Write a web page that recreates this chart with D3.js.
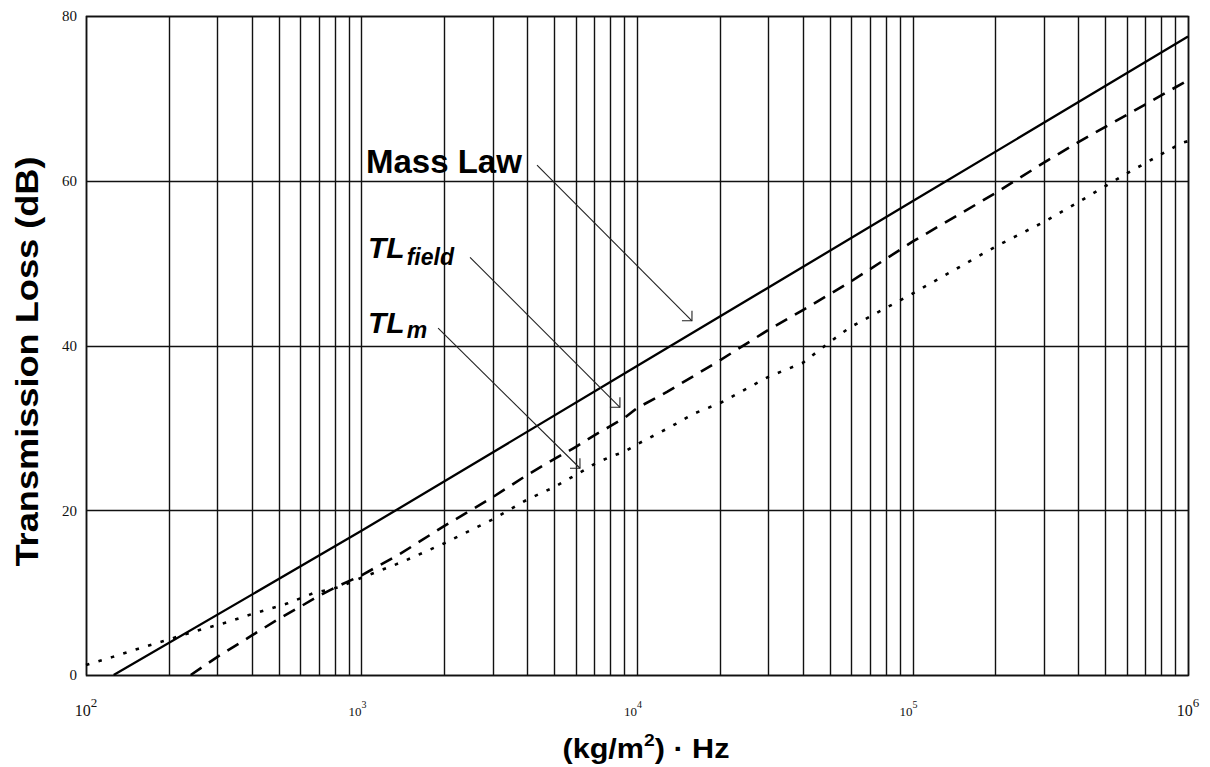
<!DOCTYPE html>
<html>
<head>
<meta charset="utf-8">
<script src="https://cdn.jsdelivr.net/npm/d3@7"></script>
<style>
  body { margin: 0; background: #fff; }
  svg { display: block; }
</style>
</head>
<body>
<script>
// Mass law and the two incidence-averaged transmission loss curves
var massLawFreq = [126, 1000, 10000, 100000, 1000000];
var massLawTL   = [0, 17.5, 37.5, 57.5, 77.5];

var fieldFreq = [240, 300, 400, 500, 600, 700, 800, 900, 1000, 1380, 2000, 3000, 4000, 5000, 6000, 7000, 8000, 9000,
                 10000, 12900, 20000, 30000, 40000, 59300, 100000, 200000, 300000, 400000, 600000, 1000000];
var fieldTL   = [0, 2.2, 4.8, 6.8, 8.3, 9.6, 10.6, 11.4, 12.1, 14.7, 18.1, 21.6, 24.3, 26.2, 27.7, 29.1, 30.2, 31.2,
                 32.4, 34.4, 38.2, 41.9, 44.3, 47.7, 52.6, 58.5, 62.2, 64.7, 68.0, 72.2];

var tlmFreq = [100, 125, 155, 190, 260, 325, 400, 540, 665, 835, 1000, 1400, 2000, 3000, 4000, 5000, 6000, 7000,
               8000, 9000, 10000, 13200, 16000, 20000, 30000, 40000, 50000, 59300, 100000, 200000, 300000,
               400000, 600000, 950000, 1000000];
var tlmTL   = [1.2, 2.2, 3.2, 4.1, 5.5, 6.4, 7.4, 8.7, 9.9, 10.7, 11.8, 13.7, 16.0, 18.9, 21.3, 22.8, 24.3, 25.6,
               26.5, 27.1, 28.0, 30.1, 31.7, 33.0, 36.2, 37.9, 40.4, 42.2, 46.3, 52.0, 55.0,
               57.4, 60.9, 64.6, 64.8];

var yTicks = [0, 20, 40, 60, 80];
var xTickExps = [2, 3, 4, 5, 6];

// callouts: label, subscript, label anchor and arrow ends in data units
var callouts = [
  {text: "Mass Law", sub: "", at: [1038, 60.9], from: [4335, 61.9], to: [15830, 43.0]},
  {text: "TL", sub: "field", at: [1056, 50.6], from: [2477, 50.7], to: [8670, 32.5]},
  {text: "TL", sub: "m", at: [1056, 41.5], from: [1897, 42.1], to: [6210, 25.1]}
];

var W = 1210, H = 767;
var margin = {top: 16, right: 22, bottom: 92, left: 86},
    width = W - margin.left - margin.right,
    height = H - margin.top - margin.bottom;

var svg = d3.select("body").append("svg")
    .attr("width", W)
    .attr("height", H);

var x = d3.scaleLog().domain([1e2, 1e6]).range([margin.left, margin.left + width]);
var y = d3.scaleLinear().domain([0, 80]).range([margin.top + height, margin.top]);

// grid
var grid = svg.append("g").attr("stroke", "#111").attr("stroke-width", 1.4);
grid.selectAll(".vgrid")
    .data(x.ticks())
    .enter().append("line")
    .attr("class", "vgrid")
    .attr("x1", function(d) { return Math.round(x(d)) + 0.5; })
    .attr("x2", function(d) { return Math.round(x(d)) + 0.5; })
    .attr("y1", y(80))
    .attr("y2", y(0));
grid.selectAll(".hgrid")
    .data(yTicks)
    .enter().append("line")
    .attr("class", "hgrid")
    .attr("x1", x(1e2))
    .attr("x2", x(1e6))
    .attr("y1", function(d) { return Math.round(y(d)) + 0.5; })
    .attr("y2", function(d) { return Math.round(y(d)) + 0.5; });

svg.append("rect")
    .attr("x", x(1e2) + 0.5)
    .attr("y", y(80) + 0.5)
    .attr("width", x(1e6) - x(1e2))
    .attr("height", y(0) - y(80))
    .attr("fill", "none")
    .attr("stroke", "#111")
    .attr("stroke-width", 1.6);

// y axis labels
var yAxis = svg.append("g")
    .attr("transform", "translate(" + margin.left + ",0)")
    .call(d3.axisLeft(y).tickValues(yTicks).tickSize(0).tickPadding(9));
yAxis.select(".domain").remove();
yAxis.selectAll("text")
    .style("font-family", "'Liberation Serif', 'Times New Roman', serif")
    .style("font-size", "15px")
    .attr("fill", "#111");

// x axis labels as powers of ten
var xl = svg.append("g")
    .style("font-family", "'Liberation Serif', 'Times New Roman', serif")
    .attr("fill", "#111");
xTickExps.forEach(function(e, i) {
  var big = (i === 0 || i === xTickExps.length - 1);
  var fs = big ? 16 : 13;
  var t = xl.append("text")
      .attr("x", x(Math.pow(10, e)) - (big ? 0 : 4))
      .attr("y", 716)
      .attr("text-anchor", "middle")
      .style("font-size", fs + "px");
  t.append("tspan").text("10");
  t.append("tspan")
      .attr("dy", big ? -9 : -8)
      .style("font-size", (big ? 13 : 10) + "px")
      .text(e);
});

// curves
var line = d3.line()
    .x(function(d) { return x(d[0]); })
    .y(function(d) { return y(d[1]); });

function pairs(fs, vs) { return fs.map(function(f, i) { return [f, vs[i]]; }); }

svg.append("path")
    .datum(pairs(massLawFreq, massLawTL))
    .attr("d", line)
    .attr("fill", "none")
    .attr("stroke", "#000")
    .attr("stroke-width", 2.3);

svg.append("path")
    .datum(pairs(fieldFreq, fieldTL))
    .attr("d", line)
    .attr("fill", "none")
    .attr("stroke", "#000")
    .attr("stroke-width", 2.6)
    .attr("stroke-dasharray", "13 9");

svg.append("path")
    .datum(pairs(tlmFreq, tlmTL))
    .attr("d", line)
    .attr("fill", "none")
    .attr("stroke", "#000")
    .attr("stroke-width", 2.6)
    .attr("stroke-dasharray", "3.5 9.5");

// callout labels with arrows
var ann = svg.append("g");
callouts.forEach(function(c) {
  var isName = c.sub === "";
  var t = ann.append("text")
      .attr("x", x(c.at[0]))
      .attr("y", y(c.at[1]))
      .style("font-family", "'Liberation Sans', Arial, sans-serif")
      .style("font-weight", "bold")
      .style("font-style", isName ? "normal" : "italic")
      .style("font-size", isName ? "33px" : "30px")
      .attr("fill", "#000");
  t.append("tspan").text(c.text);
  if (!isName) {
    t.append("tspan")
        .attr("dx", 2)
        .attr("dy", c.sub === "m" ? 5 : 7)
        .style("font-size", "23px")
        .text(c.sub);
  }

  var x1 = x(c.from[0]), y1 = y(c.from[1]),
      x2 = x(c.to[0]), y2 = y(c.to[1]);
  var ang = Math.atan2(y2 - y1, x2 - x1), len = 10, spread = Math.PI / 4;
  ann.append("line")
      .attr("x1", x1).attr("y1", y1)
      .attr("x2", x2).attr("y2", y2)
      .attr("stroke", "#222")
      .attr("stroke-width", 1.1);
  ann.append("path")
      .attr("d", "M" + (x2 - len * Math.cos(ang - spread)) + "," + (y2 - len * Math.sin(ang - spread)) +
                 "L" + x2 + "," + y2 +
                 "L" + (x2 - len * Math.cos(ang + spread)) + "," + (y2 - len * Math.sin(ang + spread)))
      .attr("fill", "none")
      .attr("stroke", "#222")
      .attr("stroke-width", 1.1);
});

// axis titles
svg.append("text")
    .attr("transform", "translate(38," + (y(40) + 16) + ") rotate(-90)")
    .attr("text-anchor", "middle")
    .attr("textLength", 410)
    .attr("lengthAdjust", "spacingAndGlyphs")
    .style("font-family", "'Liberation Sans', Arial, sans-serif")
    .style("font-weight", "bold")
    .style("font-size", "32px")
    .attr("fill", "#000")
    .text("Transmission Loss (dB)");

var xt = svg.append("text")
    .attr("x", 646)
    .attr("y", 758)
    .attr("text-anchor", "middle")
    .attr("textLength", 167)
    .attr("lengthAdjust", "spacingAndGlyphs")
    .style("font-family", "'Liberation Sans', Arial, sans-serif")
    .style("font-weight", "bold")
    .style("font-size", "27px")
    .attr("fill", "#000");
xt.append("tspan").text("(kg/m");
xt.append("tspan").attr("dy", -12).style("font-size", "17px").text("2");
xt.append("tspan").attr("dy", 12).text(") \u00b7 Hz");
</script>
</body>
</html>
